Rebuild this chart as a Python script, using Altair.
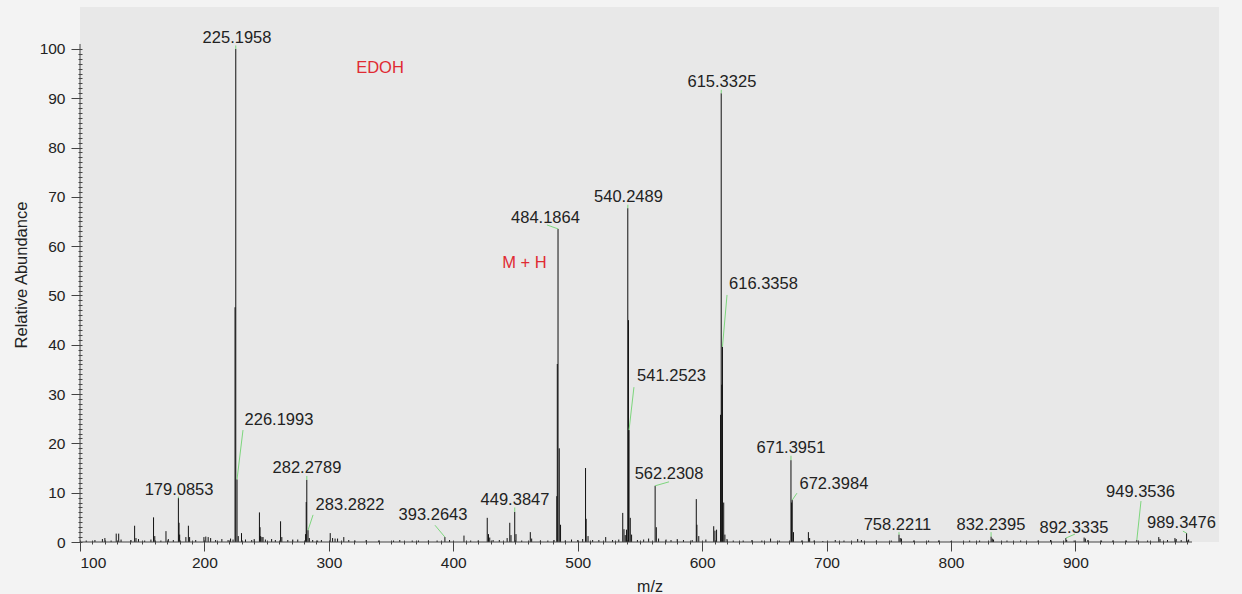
import altair as alt
import pandas as pd

# ---- labelled centroid peaks (m/z, relative abundance) ----
labeled_mz = [225.1958, 226.1993, 179.0853, 282.2789, 283.2822, 393.2643,
              449.3847, 484.1864, 540.2489, 541.2523, 562.2308, 615.3325,
              616.3358, 671.3951, 672.3984, 758.2211, 832.2395, 892.3335,
              949.3536, 989.3476]
labeled_ab = [100.0, 12.7, 8.9, 12.6, 2.4, 1.0,
              6.1, 63.5, 67.7, 22.7, 11.4, 91.0,
              39.6, 16.6, 8.5, 1.5, 1.1, 0.8,
              0.4, 1.8]

# text anchor of each peak label (m/z, abundance units)
label_x = [226.2, 259.9, 179.6, 282.4, 317.0, 383.7,
           449.6, 474.1, 540.8, 575.4, 573.4, 615.9,
           649.3, 671.4, 705.9, 757.0, 832.1, 898.8,
           952.3, 985.2]
label_y = [101.2, 23.7, 9.5, 14.0, 6.5, 4.5,
           7.5, 64.7, 69.0, 32.7, 12.8, 92.3,
           51.3, 18.1, 10.8, 2.4, 2.4, 1.8,
           9.1, 2.8]

# label-side end of each leader line
leader_x = [225.2, 231.0, 179.1, 282.3, 287.3, 385.3,
            449.4, 475.3, 540.3, 545.2, 573.4, 615.4,
            620.0, 671.4, 676.2, 758.2, 832.2, 899.6,
            952.7, 986.4]
leader_y = [100.7, 22.7, 9.2, 13.4, 5.5, 3.4,
            7.0, 64.3, 68.4, 31.4, 12.2, 91.7,
            50.1, 17.5, 9.9, 2.0, 2.0, 1.6,
            8.3, 2.2]

# ---- remaining profile points and minor ions ----
other_mz = [105, 112, 118, 120, 125, 129.1, 131.1, 133, 141, 143.9, 145, 147,
            152, 157, 159.1, 160.1, 165, 169.1, 171, 175, 179.6, 180.1, 185.1,
            187.1, 188.1, 193, 199.6, 201.1, 203, 205, 209, 214, 219, 221, 223,
            224.6, 227.2, 229.8, 233, 238, 240, 244.2, 244.7, 245.2, 246.2,
            247.1, 249, 254, 257, 261.2, 262.2, 267, 271, 275, 281.3, 281.8,
            284.3, 287, 291, 294, 301.1, 303, 305, 307, 312, 316, 321, 330,
            340, 352, 357, 367, 372, 380, 387, 397, 408.6, 414, 420, 427.3,
            428.3, 429.3, 432, 437, 443.3, 445.4, 446.4, 450.4, 455, 461.9,
            463, 470, 476, 481, 483.2, 483.6, 485.19, 486.2, 490, 495, 500,
            504, 506.3, 506.8, 508.3, 512, 517, 522.5, 528, 533, 536.2, 537.2,
            538.2, 539.2, 540.8, 542.25, 543.3, 548, 553, 557, 563.2, 565, 571,
            575, 580, 585, 592, 595.3, 595.8, 597.3, 603, 609.3, 610.3, 611.6,
            614.8, 615.8, 617.34, 618.3, 620, 625, 633, 640, 648, 655, 662,
            671.9, 673.4, 680, 685.4, 686.4, 690, 697, 707, 714, 725, 728, 740,
            752, 759.2, 760.2, 770, 782, 790, 800, 815, 823, 833.2, 834.2, 845,
            856, 870, 880, 893, 899, 907, 908, 910, 921, 930, 941, 958, 967,
            968, 974, 980, 981, 985, 991]
other_ab = [0.3, 0.4, 0.6, 0.8, 0.3, 1.7, 1.7, 0.5, 0.4, 3.3, 0.8, 0.6,
            0.3, 0.5, 5.0, 1.2, 0.3, 2.2, 0.6, 0.4, 3.9, 1.5, 1.0,
            3.3, 1.0, 0.4, 1.0, 1.1, 1.0, 0.8, 0.4, 0.6, 0.4, 0.7, 0.5,
            47.6, 1.2, 1.8, 0.5, 0.4, 0.6, 6.0, 3.0, 1.2, 1.0,
            1.0, 0.5, 0.6, 0.4, 4.2, 1.0, 0.4, 0.5, 0.5, 1.6, 8.1,
            0.8, 0.4, 0.3, 0.4, 1.8, 0.8, 0.7, 0.7, 1.0, 0.4, 0.3, 0.4,
            0.3, 0.3, 0.4, 0.3, 0.3, 0.3, 0.3, 0.4, 1.3, 0.3, 0.3, 4.9,
            1.6, 0.9, 0.4, 0.4, 0.8, 3.9, 1.4, 1.6, 0.3, 2.0,
            0.7, 0.3, 0.3, 0.4, 9.3, 36.1, 19.0, 3.5, 0.3, 0.5, 0.4,
            0.6, 15.0, 4.7, 1.2, 0.4, 0.4, 1.0, 0.4, 0.5, 5.9, 2.6,
            1.4, 2.5, 45.0, 4.9, 1.5, 0.4, 0.5, 0.7, 3.0, 0.7, 0.5,
            0.4, 0.6, 0.4, 0.4, 8.7, 3.5, 1.2, 0.5, 3.2, 2.3, 2.5,
            25.8, 31.9, 8.0, 1.5, 0.6, 0.3, 0.3, 0.4, 0.3, 0.7, 0.3,
            8.0, 2.0, 0.3, 2.0, 0.8, 0.3, 0.2, 0.4, 0.3, 0.6, 0.4, 0.3,
            0.3, 0.8, 0.7, 0.3, 0.3, 0.3, 0.2, 0.3, 0.3, 0.7, 0.5, 0.3,
            0.3, 0.3, 0.4, 0.4, 0.3, 0.9, 0.7, 0.4, 0.3, 0.3, 0.3, 0.3, 1.0,
            0.6, 0.4, 0.8, 0.6, 0.4, 0.5]

# ---- free annotations ----
note_text = ["EDOH", "M + H"]
note_x = [341.1, 457.2]
note_y = [95.1, 55.6]

major_x = [100, 200, 300, 400, 500, 600, 700, 800, 900]
minor_x = list(range(100, 1000, 10))
major_y = list(range(0, 101, 10))
minor_y = list(range(0, 101, 1))

X_DOMAIN = [100, 1015.4]
X_AXIS_END = 993.7
Y_DOMAIN = [0, 108.5]
Y_AXIS_END = 101

FONT = "Liberation Sans"
INK = "#222222"
LEADER = "#7dd67d"
RED = "#e02a33"

xs = alt.Scale(domain=X_DOMAIN, nice=False, zero=False)
ys = alt.Scale(domain=Y_DOMAIN, nice=False, zero=False)

sticks = pd.DataFrame({"mz": labeled_mz + other_mz, "ab": labeled_ab + other_ab})
sticks["base"] = 0.0

labels = pd.DataFrame({
    "text": [f"{m:.4f}" for m in labeled_mz],
    "lx": label_x, "ly": label_y,
})
leaders = pd.DataFrame({
    "mz": labeled_mz, "ab": labeled_ab,
    "ex": leader_x, "ey": leader_y,
})
notes = pd.DataFrame({"text": note_text, "nx": note_x, "ny": note_y})
axis_lines = pd.DataFrame({
    "x": [X_DOMAIN[0], X_DOMAIN[0]],
    "x2": [X_AXIS_END, X_DOMAIN[0]],
    "y": [0.0, 0.0],
    "y2": [0.0, Y_AXIS_END],
})

major_x_axis = alt.Axis(
    orient="bottom", values=major_x, format="d", domain=False, grid=False,
    tickSize=9, tickColor="#444", labelFontSize=15.5, labelFont=FONT,
    labelColor=INK, labelPadding=4, title="m/z", titleFont=FONT,
    titleFontSize=16, titleFontWeight="normal", titleColor=INK, titlePadding=8,
)
major_y_axis = alt.Axis(
    orient="left", values=major_y, format="d", domain=False, grid=False,
    tickSize=9, tickColor="#444", labelFontSize=15.5, labelFont=FONT,
    labelColor=INK, labelPadding=6, title="Relative Abundance",
    titleFont=FONT, titleFontSize=16.5, titleFontWeight="normal",
    titleColor=INK, titlePadding=10,
)
minor_x_axis = alt.Axis(
    orient="bottom", values=minor_x, labels=False, domain=False, grid=False,
    tickSize=4, tickColor="#444", offset=-2, title=None,
)
minor_y_axis = alt.Axis(
    orient="left", values=minor_y, labels=False, domain=False, grid=False,
    tickSize=4, tickColor="#444", offset=-2, title=None,
)

spectrum = alt.Chart(sticks).mark_rule(color="#111111", strokeWidth=1).encode(
    x=alt.X("mz:Q", scale=xs, axis=major_x_axis),
    y=alt.Y("base:Q", scale=ys, axis=major_y_axis),
    y2="ab:Q",
)

frame = alt.Chart(axis_lines).mark_rule(color="#444444", strokeWidth=1).encode(
    x=alt.X("x:Q", scale=xs, axis=minor_x_axis),
    x2="x2:Q",
    y=alt.Y("y:Q", scale=ys, axis=minor_y_axis),
    y2="y2:Q",
)

leader_lines = alt.Chart(leaders).mark_rule(color=LEADER, strokeWidth=1).encode(
    x=alt.X("mz:Q", scale=xs, axis=None),
    y=alt.Y("ab:Q", scale=ys, axis=None),
    x2="ex:Q",
    y2="ey:Q",
)

peak_labels = alt.Chart(labels).mark_text(
    font=FONT, fontSize=16.5, color=INK, align="center", baseline="alphabetic"
).encode(
    x=alt.X("lx:Q", scale=xs, axis=None),
    y=alt.Y("ly:Q", scale=ys, axis=None),
    text="text:N",
)

annotations = alt.Chart(notes).mark_text(
    font=FONT, fontSize=16.5, color=RED, align="center", baseline="alphabetic"
).encode(
    x=alt.X("nx:Q", scale=xs, axis=None),
    y=alt.Y("ny:Q", scale=ys, axis=None),
    text="text:N",
)

chart = alt.layer(
    spectrum, frame, leader_lines, peak_labels, annotations
).resolve_axis(
    x="independent", y="independent"
).properties(
    width=1139,
    height=535,
    autosize=alt.AutoSizeParams(type="none"),
    padding={"left": 80, "top": 7, "right": 23, "bottom": 52},
    background="#f3f3f3",
).configure_view(
    fill="#e8e8e8", stroke=None
)

chart.save("out.html", embed_options={"renderer": "svg", "actions": False})
